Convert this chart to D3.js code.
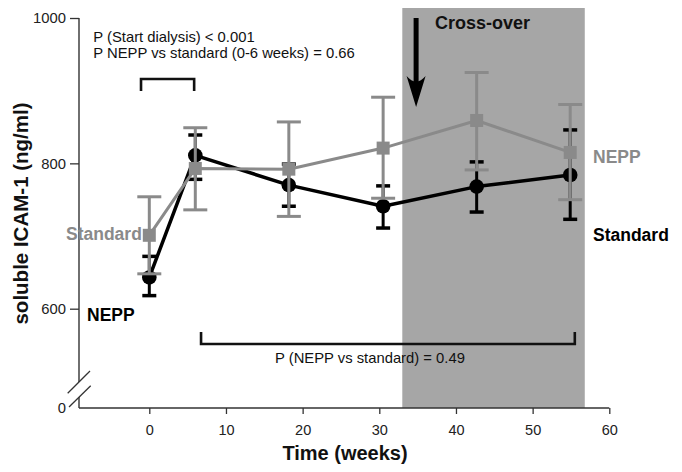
<!DOCTYPE html>
<html>
<head>
<meta charset="utf-8">
<script src="https://cdn.jsdelivr.net/npm/d3@7"></script>
<style>
  html, body { margin: 0; padding: 0; background: #fff; }
  svg { display: block; font-family: "Liberation Sans", Arial, Helvetica, sans-serif; }
</style>
</head>
<body>
<svg id="chart" width="682" height="472"></svg>
<script>
// ---- Data ----
const weeks = [0, 6, 18.2, 30.5, 42.7, 54.9];
const standardMean  = [643, 811, 770, 741, 768, 784];
const standardUpper = [672, 839, 799, 769, 802, 846];
const standardLower = [618, 778, 741, 711, 733, 723];
const neppMean  = [701, 793, 792, 821, 859, 815];
const neppUpper = [754, 849, 857, 891, 925, 881];
const neppLower = [648, 736, 727, 752, 791, 750];
const xTicks = [0, 10, 20, 30, 40, 50, 60];
const yTicks = [600, 800, 1000];
const yBreakLabel = "0";
const crossover = [33, 56.8];   // shaded cross-over period (weeks)

// ---- Layout ----
const svg = d3.select("#chart");
const axisY = 408;      // pixel of x axis line
const axisX = 79;       // pixel of y axis line

const x = d3.scaleLinear().domain([0, 60]).range([149.3, 609.3]);
const y = d3.scaleLinear().domain([600, 1000]).range([308.7, 18]);

const grey = "#8a8a8a";
const axisCol = "#333";

// shaded cross-over region
svg.append("rect")
  .attr("x", x(crossover[0])).attr("y", 8)
  .attr("width", x(crossover[1]) - x(crossover[0]))
  .attr("height", axisY - 8)
  .attr("fill", "#a6a6a6");

// ---- Axes ----
const xAxis = d3.axisBottom(x).tickValues(xTicks).tickSize(6).tickPadding(11).tickSizeOuter(0);
const gx = svg.append("g").attr("transform", `translate(0,${axisY})`).call(xAxis);
gx.select(".domain").remove();
gx.selectAll(".tick line").attr("stroke", axisCol).attr("stroke-width", 1.3);
gx.selectAll(".tick text").attr("fill", "#222").style("font-size", "14.5px");
svg.append("line").attr("x1", axisX).attr("x2", x(60)).attr("y1", axisY).attr("y2", axisY)
  .attr("stroke", axisCol).attr("stroke-width", 1.4);

const yAxis = d3.axisLeft(y).tickValues(yTicks).tickFormat(d3.format("d"))
  .tickSize(9).tickPadding(4).tickSizeOuter(0);
const gy = svg.append("g").attr("transform", `translate(${axisX},0)`).call(yAxis);
gy.select(".domain").remove();
gy.selectAll(".tick line").attr("stroke", axisCol).attr("stroke-width", 1.3);
gy.selectAll(".tick text").attr("fill", "#222").style("font-size", "14.8px");

// y axis line with break
svg.append("line").attr("x1", axisX).attr("x2", axisX).attr("y1", y(1000)).attr("y2", 382)
  .attr("stroke", axisCol).attr("stroke-width", 1.4);
svg.append("line").attr("x1", axisX).attr("x2", axisX).attr("y1", 397).attr("y2", axisY)
  .attr("stroke", axisCol).attr("stroke-width", 1.4);
svg.append("line").attr("x1", 67.7).attr("y1", 393.3).attr("x2", 90).attr("y2", 371)
  .attr("stroke", axisCol).attr("stroke-width", 1.3);
svg.append("line").attr("x1", 69).attr("y1", 407).attr("x2", 90.7).attr("y2", 385.7)
  .attr("stroke", axisCol).attr("stroke-width", 1.3);
svg.append("text").attr("x", 66).attr("y", axisY).attr("dy", "0.35em")
  .attr("text-anchor", "end").attr("fill", "#222").style("font-size", "14.8px").text(yBreakLabel);

// axis titles
svg.append("text").attr("x", 345).attr("y", 460).attr("text-anchor", "middle")
  .style("font-size", "20px").style("font-weight", "bold").attr("fill", "#111").text("Time (weeks)");
svg.append("text").attr("transform", "translate(27.5,213.5) rotate(-90)").attr("text-anchor", "middle")
  .style("font-size", "20.5px").style("font-weight", "bold").attr("fill", "#111").text("soluble ICAM-1 (ng/ml)");

// ---- Series ----
function drawSeries(mean, upper, lower, opts) {
  const g = svg.append("g");
  const pts = weeks.map((w, i) => ({ w, m: mean[i], u: upper[i], l: lower[i] }));
  g.selectAll("line.eb").data(pts).enter().append("line")
    .attr("x1", d => x(d.w)).attr("x2", d => x(d.w))
    .attr("y1", d => y(d.u)).attr("y2", d => y(d.l))
    .attr("stroke", opts.color).attr("stroke-width", opts.ebWidth);
  ["u", "l"].forEach(k => {
    g.selectAll("line.cap" + k).data(pts).enter().append("line")
      .attr("x1", d => x(d.w) - opts.cap / 2).attr("x2", d => x(d.w) + opts.cap / 2)
      .attr("y1", d => y(d[k])).attr("y2", d => y(d[k]))
      .attr("stroke", opts.color).attr("stroke-width", opts.capWidth);
  });
  g.append("path").datum(pts)
    .attr("d", d3.line().x(d => x(d.w)).y(d => y(d.m)))
    .attr("fill", "none").attr("stroke", opts.color).attr("stroke-width", opts.lineWidth)
    .attr("stroke-linejoin", "round");
  if (opts.shape === "circle") {
    g.selectAll("circle").data(pts).enter().append("circle")
      .attr("cx", d => x(d.w)).attr("cy", d => y(d.m)).attr("r", 7.3).attr("fill", opts.color);
  } else {
    g.selectAll("rect.pt").data(pts).enter().append("rect")
      .attr("x", d => x(d.w) - 6.5).attr("y", d => y(d.m) - 6.5)
      .attr("width", 13).attr("height", 13).attr("fill", opts.color);
  }
}
drawSeries(standardMean, standardUpper, standardLower,
  { color: "#000", ebWidth: 3, cap: 14, capWidth: 3.5, lineWidth: 3.5, shape: "circle" });
drawSeries(neppMean, neppUpper, neppLower,
  { color: grey, ebWidth: 3, cap: 24, capWidth: 3, lineWidth: 3, shape: "square" });

// ---- Series labels ----
const lab = (tx, ty, txt, col) => svg.append("text").attr("x", tx).attr("y", ty)
  .style("font-size", "17.5px").style("font-weight", "bold").attr("fill", col).text(txt);
lab(66, 239.5, "Standard", grey);
lab(87, 320.7, "NEPP", "#000");
lab(593, 162.7, "NEPP", grey);
lab(593, 240.7, "Standard", "#000");

// ---- Annotations ----
svg.append("text").attr("x", 93.3).attr("y", 41.7).style("font-size", "14.8px").attr("fill", "#111")
  .text("P (Start dialysis) < 0.001");
svg.append("text").attr("x", 93.3).attr("y", 58.3).style("font-size", "14.8px").attr("fill", "#111")
  .text("P NEPP vs standard (0-6 weeks) = 0.66");

// top bracket (0-6 weeks)
svg.append("path")
  .attr("d", `M${x(-1.08)},${y(899.5)} V${y(916)} H${x(5.85)} V${y(899.5)}`)
  .attr("fill", "none").attr("stroke", "#111").attr("stroke-width", 2.6);

// bottom bracket
svg.append("path")
  .attr("d", `M${x(6.75)},${y(568)} V${y(551.4)} H${x(55.5)} V${y(568)}`)
  .attr("fill", "none").attr("stroke", "#111").attr("stroke-width", 2.6);
svg.append("text").attr("x", 275).attr("y", 363.3).style("font-size", "14.8px").attr("fill", "#111")
  .text("P (NEPP vs standard) = 0.49");

// cross-over arrow
const ax = x(34.8), aTop = y(1000), aTip = y(877.5);
svg.append("line").attr("x1", ax).attr("x2", ax).attr("y1", aTop).attr("y2", aTip - 20)
  .attr("stroke", "#000").attr("stroke-width", 5);
svg.append("path")
  .attr("d", `M${ax},${aTip} L${ax - 9.5},${aTip - 31} Q${ax},${aTip - 20} ${ax + 9.5},${aTip - 31} Z`)
  .attr("fill", "#000");
svg.append("text").attr("x", 435).attr("y", 29.3)
  .style("font-size", "18px").style("font-weight", "bold").attr("fill", "#111").text("Cross-over");
</script>
</body>
</html>
